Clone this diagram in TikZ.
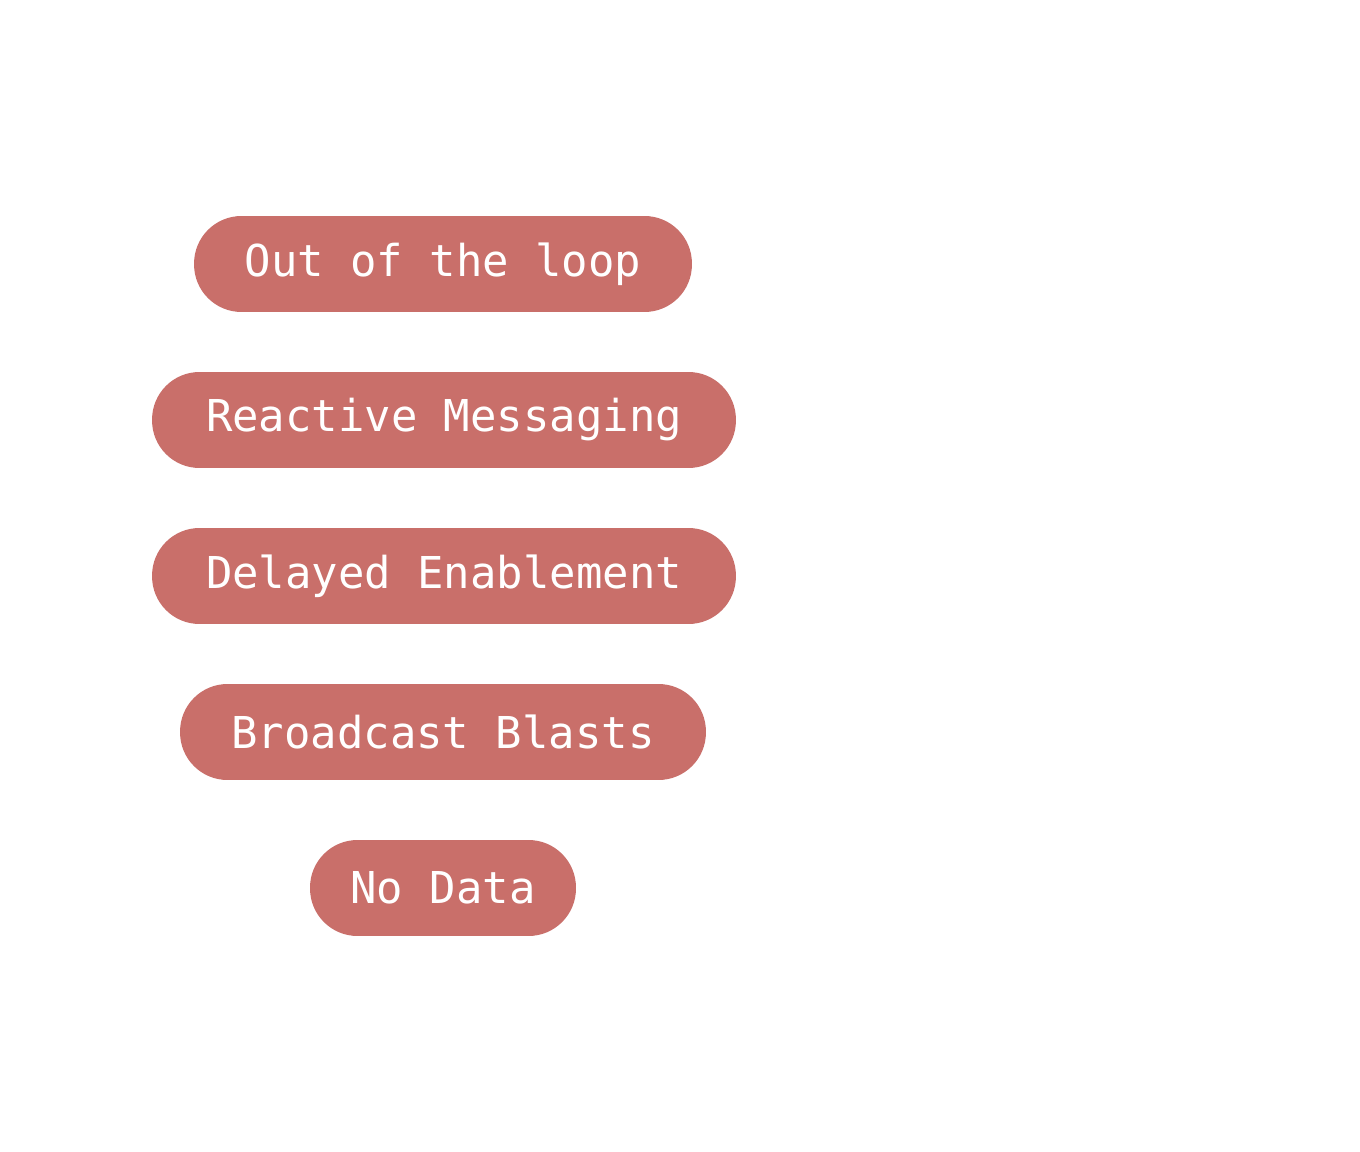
\documentclass[tikz,border=0pt]{standalone}
\usepackage{fontspec}
\setmonofont{DejaVu Sans Mono}
\usetikzlibrary{arrows.meta}
\definecolor{pill}{HTML}{C96F6A}
\begin{document}
\begin{tikzpicture}[x=0.02cm,y=-0.02cm,
  pill/.style={fill=pill,text=white,rounded corners=0.95cm,minimum height=1.92cm,
    inner sep=0pt,font=\ttfamily\fontsize{25}{25}\selectfont},
  ghost/.style={draw=white,line width=0.2cm}]
\useasboundingbox (0,0) rectangle (1360,1152);
\fill[white] (0,0) rectangle (1360,1152);
\node[pill,minimum width=9.96cm] (a) at (443,264) {Out of the loop};
\node[pill,minimum width=11.68cm] (b) at (444,420) {Reactive Messaging};
\node[pill,minimum width=11.68cm] (c) at (444,576) {Delayed Enablement};
\node[pill,minimum width=10.52cm] (d) at (443,732) {Broadcast Blasts};
\node[pill,minimum width=5.32cm] (e) at (443,888) {No Data};
\node[text=white,font=\sffamily\fontsize{30}{30}\selectfont] (ol) at (1035,680) {Open Loop};
\coordinate (s) at (450,165);
\coordinate (t) at (865,97);
\coordinate (u) at (450,1000);
\draw[ghost,-{Stealth}] (s) to[out=90,in=180] (520,100) -- (t);
\draw[ghost] (u) to[out=-90,in=180] (520,1060) -- (780,1060) to[out=0,in=-90] (845,1000) -- (845,810) to[out=90,in=180] (920,738) -- (ol.south east);
\end{tikzpicture}
\end{document}
